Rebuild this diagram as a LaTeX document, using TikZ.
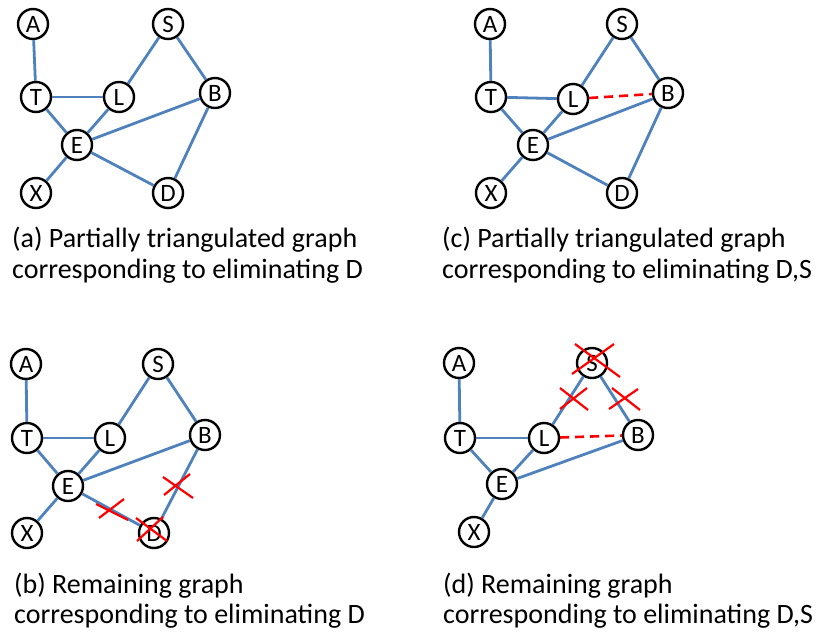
\documentclass[tikz,border=0pt]{standalone}
\usepackage{fontspec}
\setmainfont{Carlito}
\begin{document}
\begin{tikzpicture}[x=1pt,y=-1pt,
  vnode/.style={circle,draw=black,line width=2.4pt,fill=white,minimum size=30pt,inner sep=0pt,font=\fontsize{25}{25}\selectfont},
  edge/.style={draw={rgb,255:red,79;green,129;blue,189},line width=2.8pt},
  redge/.style={draw=red,line width=2.6pt,dash pattern=on 9pt off 6pt},
  xmark/.style={draw=red,line width=2.2pt},
  captext/.style={anchor=base west,align=left,inner sep=0pt,font=\fontsize{28}{31}\selectfont}]
\useasboundingbox (0,0) rectangle (818,634);
% panel (a)
\node[vnode] (aA) at (33,24) {A};
\node[vnode] (aS) at (168,24) {S};
\node[vnode] (aT) at (36,97) {T};
\node[vnode] (aL) at (119,97) {L};
\node[vnode] (aB) at (215,93) {B};
\node[vnode] (aE) at (77,145) {E};
\node[vnode] (aX) at (36,193) {X};
\node[vnode] (aD) at (168,193) {D};
\draw[edge] (aA) -- (aT);
\draw[edge] (aT) -- (aL);
\draw[edge] (aT) -- (aE);
\draw[edge] (aL) -- (aE);
\draw[edge] (aL) -- (aS);
\draw[edge] (aS) -- (aB);
\draw[edge] (aE) -- (aB);
\draw[edge] (aB) -- (aD);
\draw[edge] (aE) -- (aD);
\draw[edge] (aE) -- (aX);
\node[captext] (capa1) at (12,247) {(a) Partially triangulated graph};
\node[captext] (capa2) at (12,278) {corresponding to eliminating D};
% panel (c)
\node[vnode] (cA) at (490,24) {A};
\node[vnode] (cS) at (622,24) {S};
\node[vnode] (cT) at (491,97) {T};
\node[vnode] (cL) at (573,99) {L};
\node[vnode] (cB) at (668,93) {B};
\node[vnode] (cE) at (533,145) {E};
\node[vnode] (cX) at (491,193) {X};
\node[vnode] (cD) at (622,193) {D};
\draw[edge] (cA) -- (cT);
\draw[edge] (cT) -- (cL);
\draw[edge] (cT) -- (cE);
\draw[edge] (cL) -- (cE);
\draw[edge] (cL) -- (cS);
\draw[edge] (cS) -- (cB);
\draw[edge] (cE) -- (cB);
\draw[edge] (cB) -- (cD);
\draw[edge] (cE) -- (cD);
\draw[edge] (cE) -- (cX);
\draw[redge] (cL) -- (cB);
\node[captext] (capc1) at (442,247) {(c) Partially triangulated graph};
\node[captext] (capc2) at (442,278) {corresponding to eliminating D,S};
% panel (b)
\node[vnode] (bA) at (26,364) {A};
\node[vnode] (bS) at (158,364) {S};
\node[vnode] (bT) at (27,438) {T};
\node[vnode] (bL) at (110,438) {L};
\node[vnode] (bB) at (205,435) {B};
\node[vnode] (bE) at (68,486) {E};
\node[vnode] (bX) at (27,533) {X};
\node[vnode] (bD) at (154,533) {D};
\draw[edge] (bA) -- (bT);
\draw[edge] (bT) -- (bL);
\draw[edge] (bT) -- (bE);
\draw[edge] (bL) -- (bE);
\draw[edge] (bL) -- (bS);
\draw[edge] (bS) -- (bB);
\draw[edge] (bE) -- (bB);
\draw[edge] (bB) -- (bD);
\draw[edge] (bE) -- (bD);
\draw[edge] (bE) -- (bX);
\draw[xmark] (96,504) -- (128,520) (99,518) -- (124,499);
\draw[xmark] (136,518) -- (167,541) (137,541) -- (163,517);
\draw[xmark] (163,477) -- (193,498) (164,495) -- (190,474);
\node[captext] (capb1) at (14,593) {(b) Remaining graph};
\node[captext] (capb2) at (14,623) {corresponding to eliminating D};
% panel (d)
\node[vnode] (dA) at (459,363) {A};
\node[vnode] (dS) at (592,363) {S};
\node[vnode] (dT) at (460,438) {T};
\node[vnode] (dL) at (544,438) {L};
\node[vnode] (dB) at (638,435) {B};
\node[vnode] (dE) at (502,484) {E};
\node[vnode] (dX) at (474,532) {X};
\draw[edge] (dA) -- (dT);
\draw[edge] (dT) -- (dL);
\draw[edge] (dT) -- (dE);
\draw[edge] (dL) -- (dE);
\draw[edge] (dL) -- (dS);
\draw[edge] (dS) -- (dB);
\draw[edge] (dE) -- (dB);
\draw[edge] (dE) -- (dX);
\draw[redge] (dL) -- (dB);
\draw[xmark] (575,344) -- (620,377) (572,374) -- (614,344);
\draw[xmark] (560,388) -- (588,410) (560,409) -- (587,388);
\draw[xmark] (612,388) -- (640,410) (609,409) -- (638,389);
\node[captext] (capd1) at (443,593) {(d) Remaining graph};
\node[captext] (capd2) at (443,623) {corresponding to eliminating D,S};
\end{tikzpicture}
\end{document}
